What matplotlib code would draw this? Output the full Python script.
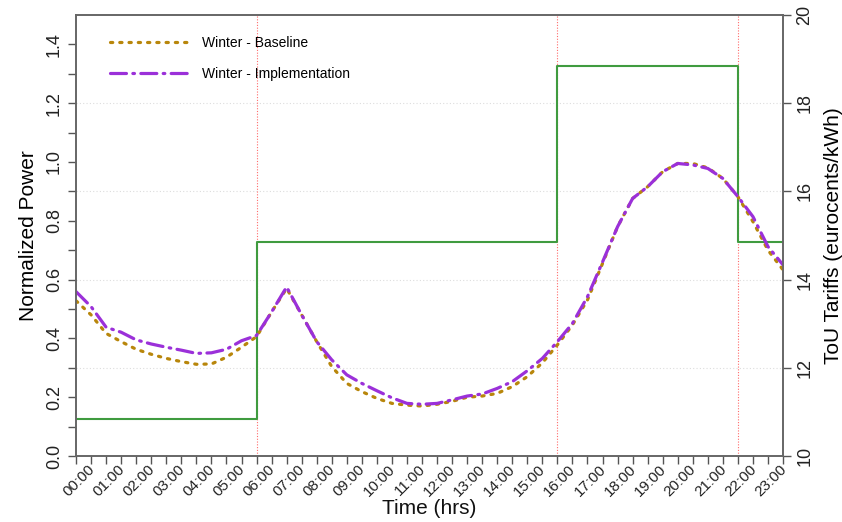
import numpy as np
import matplotlib
matplotlib.use("Agg")
import matplotlib.pyplot as plt
from matplotlib.transforms import ScaledTranslation

plt.rcParams["font.family"] = ["Liberation Sans", "DejaVu Sans"]

# half-hourly time steps (hours)
hours = np.arange(48) * 0.5

baseline = [0.528, 0.480, 0.417, 0.389, 0.363, 0.346, 0.332, 0.321, 0.312, 0.313,
            0.336, 0.370, 0.406, 0.490, 0.570, 0.480, 0.389, 0.304, 0.247, 0.219,
            0.196, 0.179, 0.173, 0.170, 0.176, 0.186, 0.200, 0.204, 0.213, 0.236,
            0.270, 0.317, 0.378, 0.446, 0.531, 0.655, 0.780, 0.876, 0.916, 0.967,
            0.995, 0.995, 0.980, 0.944, 0.882, 0.797, 0.700, 0.633]

implementation = [0.559, 0.508, 0.438, 0.421, 0.395, 0.381, 0.370, 0.360, 0.349, 0.351,
                  0.363, 0.392, 0.410, 0.490, 0.575, 0.480, 0.389, 0.327, 0.276, 0.247,
                  0.222, 0.198, 0.179, 0.176, 0.179, 0.191, 0.204, 0.211, 0.230, 0.253,
                  0.290, 0.332, 0.389, 0.451, 0.542, 0.660, 0.780, 0.876, 0.916, 0.967,
                  0.995, 0.990, 0.978, 0.944, 0.882, 0.814, 0.712, 0.650]

# ToU tariff periods (start hour) and prices (eurocents/kWh)
tariff_hours = [0, 6, 16, 22, 23.5]
tariff_values = [10.85, 14.85, 18.85, 14.85, 14.85]
tariff_changes = [6, 16, 22]

label_hours = list(range(24))
hour_labels = ["%02d:00" % h for h in label_hours]

fig = plt.figure(figsize=(8.42, 5.22), dpi=100)
ax = fig.add_axes([0.0903, 0.1264, 0.8397, 0.8449])
ax2 = ax.twinx()

# right axis: tariffs + grid
ax2.set_ylim(10, 20)
ax2.set_yticks([10, 12, 14, 16, 18, 20])
for t in [12, 14, 16, 18]:
    ax2.axhline(t, color="#dddddd", lw=0.8, ls=(0, (1, 2)), zorder=0)
for t in tariff_changes:
    ax2.axvline(t, color="#ff6b6b", lw=0.8, ls=(0, (1, 1.5)), zorder=1)
ax2.step(tariff_hours, tariff_values, where="post", color="#3f9b3f", lw=1.5, zorder=2)

# left axis: power curves
ax.set_zorder(ax2.get_zorder() + 1)
ax.patch.set_visible(False)
ax.plot(hours, baseline, color="#b8860b", lw=2.3, ls=(0, (0.7, 2.2)),
        dash_capstyle="round", label="Winter - Baseline")
ax.plot(hours, implementation, color="#9b30d9", lw=2.3, ls=(0, (5, 2, 0.5, 2)),
        dash_capstyle="round", label="Winter - Implementation")

ax.set_xlim(0, 23.5)
ax.set_ylim(0, 1.5)
ax.set_xticks(hours)
ax.set_xticklabels([])
# rotated hour labels, shifted right of their tick like the original
offset = ScaledTranslation(0.21, -0.065, fig.dpi_scale_trans)
for h, lab in zip(label_hours, hour_labels):
    ax.text(h, 0, lab, transform=ax.get_xaxis_transform() + offset,
            rotation=45, ha="right", va="top", fontsize=11, color="#222222")

yt = np.round(np.arange(0, 1.41, 0.1), 1)
ax.set_yticks(yt)
ax.set_yticklabels(["%.1f" % v if i % 2 == 0 else "" for i, v in enumerate(yt)],
                   rotation=90, va="center", fontsize=13)
ax2.set_yticklabels(["10", "12", "14", "16", "18", "20"], rotation=90, va="center", fontsize=13)

for a in (ax, ax2):
    a.tick_params(direction="out", length=6, width=1, color="#555555", labelcolor="#222222")
    for s in a.spines.values():
        s.set_color("#666666")
        s.set_linewidth(1.2)

ax.text(0.5, -0.118, "Time (hrs)", transform=ax.transAxes, ha="center", va="center",
        fontsize=15, color="#111111")
ax.set_ylabel("Normalized Power", fontsize=15, labelpad=6)
ax2.set_ylabel("ToU Tariffs (eurocents/kWh)", fontsize=15, labelpad=8)

ax.legend(loc="upper left", frameon=False, fontsize=10, handlelength=5.8,
          handletextpad=0.85, labelspacing=1.2, bbox_to_anchor=(0.03, 0.98))

fig.savefig("out.png", dpi=100)
